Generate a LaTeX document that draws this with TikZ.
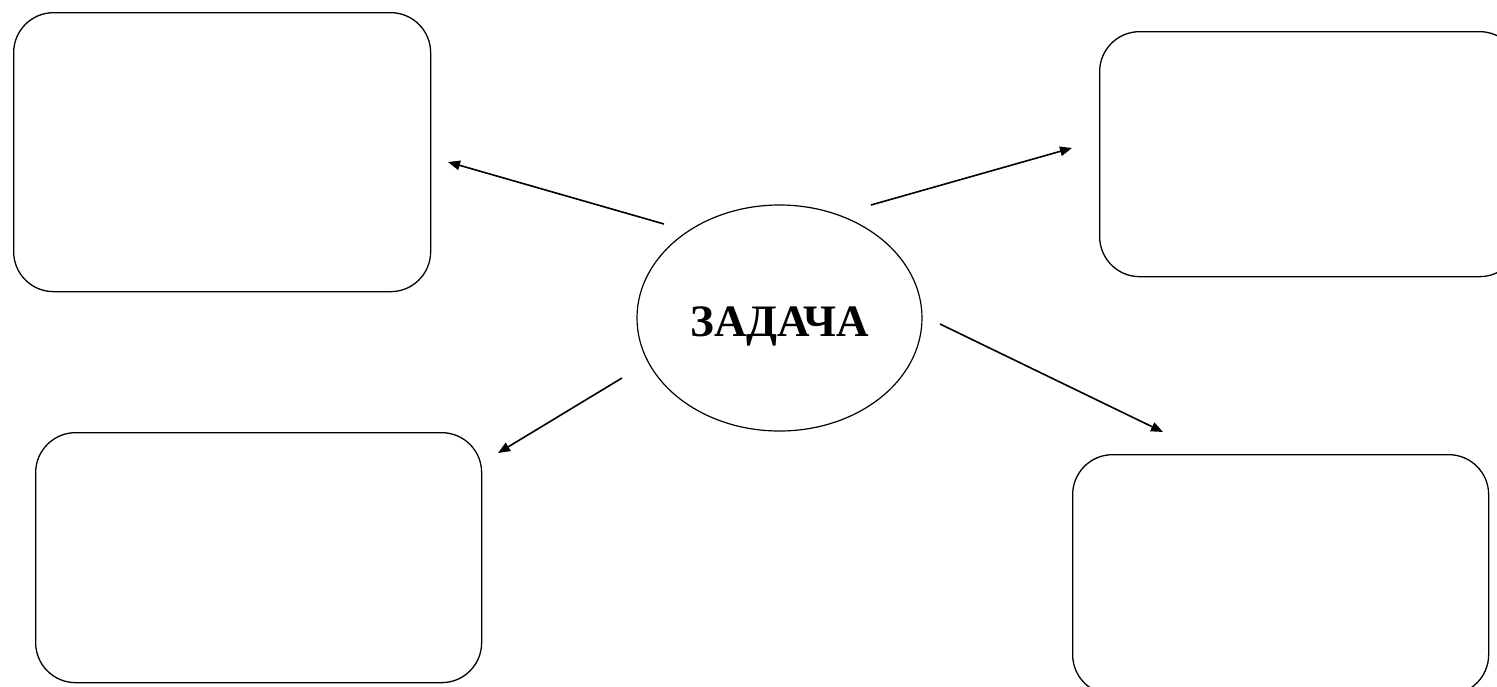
\documentclass[tikz,border=0pt]{standalone}
\usepackage{fontspec}
\setmainfont{Liberation Serif}
\usetikzlibrary{shapes.geometric,arrows.meta}
\tikzset{
  card/.style={draw=black, line width=1.3pt, rounded corners=40pt, rectangle, inner sep=0pt, anchor=north west},
  hub/.style={draw=black, line width=1.2pt, ellipse, inner sep=0pt},
  hubtext/.style={inner sep=0pt, font=\fontsize{45}{52}\selectfont\bfseries},
  link/.style={line width=1.6pt, -{Triangle[length=12pt,width=9.5pt]}}
}
\begin{document}
\begin{tikzpicture}[x=1pt,y=-1pt]
\useasboundingbox (0,0) rectangle (1497,686);
\node[card, minimum width=417pt, minimum height=279pt] (tl) at (13,12) {};
\node[card, minimum width=420pt, minimum height=245pt] (tr) at (1099,31) {};
\node[card, minimum width=446pt, minimum height=250pt] (bl) at (35,432) {};
\node[card, minimum width=416pt, minimum height=240pt] (br) at (1072,454) {};
\node[hub, minimum width=285pt, minimum height=226pt] (task) at (779.5,318) {};
\node[hubtext] (lbl) at ([yshift=-8pt]task.center) {ЗАДАЧА};
\coordinate (s1) at (664,224);
\coordinate (e1) at (448,162);
\coordinate (s2) at (871,205);
\coordinate (e2) at (1072,148);
\coordinate (s3) at (622,378);
\coordinate (e3) at (498,453);
\coordinate (s4) at (940,324);
\coordinate (e4) at (1163,432);
\draw[link] (s1) -- (e1);
\draw[link] (s2) -- (e2);
\draw[link] (s3) -- (e3);
\draw[link] (s4) -- (e4);
\end{tikzpicture}
\end{document}
